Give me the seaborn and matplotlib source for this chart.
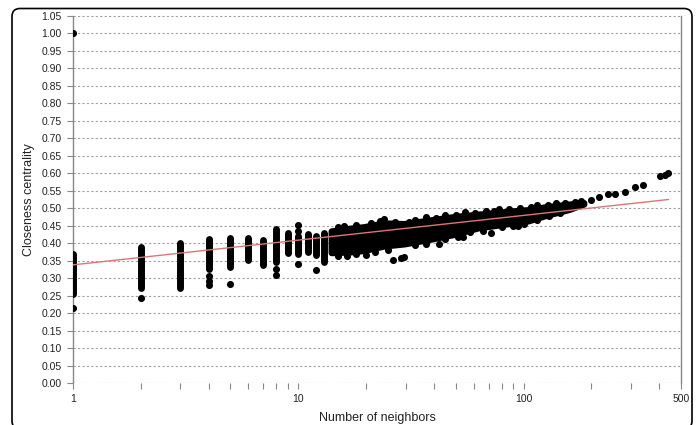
"""Closeness centrality against number of neighbours (log x), with log fit line."""

import matplotlib
matplotlib.use("Agg")
import matplotlib.pyplot as plt
from matplotlib.patches import FancyBboxPatch
from matplotlib.ticker import FixedLocator, LogLocator, NullFormatter, FormatStrFormatter
from matplotlib.transforms import IdentityTransform
import seaborn as sns

# stacked columns of dots for low neighbour counts (dot centres, lowest / highest)
column_n = [1, 2, 3, 4, 5, 6, 7, 8, 9, 10, 11, 12, 13]
column_low = [0.254, 0.271, 0.271, 0.325, 0.333, 0.352, 0.338, 0.345, 0.371, 0.370, 0.376, 0.366, 0.347]
column_high = [0.369, 0.389, 0.400, 0.411, 0.414, 0.414, 0.409, 0.440, 0.430, 0.420, 0.425, 0.420, 0.430]

# dense cloud from 14 neighbours on (dot centres along the upper / lower edge)
band_n = [14, 17, 19.5, 24, 29.5, 39, 49, 63, 88, 105, 125, 160, 185]
band_upper = [0.435, 0.443, 0.447, 0.458, 0.456, 0.467, 0.476, 0.483, 0.492, 0.496, 0.504, 0.512, 0.516]
band_lower = [0.373, 0.375, 0.379, 0.392, 0.398, 0.412, 0.425, 0.444, 0.457, 0.464, 0.479, 0.497, 0.512]

# single dots at the ragged edges of the cloud
edge_n = [15, 16, 18, 21, 23, 24, 27, 31, 33, 37, 41, 45, 50, 55, 61, 68, 74, 78, 86, 96, 108, 115, 128, 140, 152, 170, 180,
          15, 16.5, 18, 20, 22, 25, 33, 37, 45, 51, 58, 66, 80, 90, 100, 115, 130, 145]
edge_y = [0.446, 0.449, 0.452, 0.458, 0.463, 0.468, 0.462, 0.462, 0.467, 0.474, 0.473, 0.481, 0.480, 0.488, 0.487, 0.491, 0.492, 0.498, 0.497, 0.500, 0.503, 0.508, 0.510, 0.514, 0.516, 0.519, 0.522,
          0.364, 0.362, 0.368, 0.366, 0.376, 0.380, 0.394, 0.398, 0.413, 0.418, 0.431, 0.436, 0.447, 0.449, 0.456, 0.466, 0.477, 0.486]

# isolated points
lone_n = [1, 1, 2, 4, 4, 4, 5, 8, 8, 10, 10, 10, 12,
          26.2, 28.6, 29.6, 42.3, 54, 72, 94.6,
          200, 217, 238, 254, 282, 312, 338, 405, 424, 440]
lone_y = [0.215, 1.000, 0.244, 0.305, 0.291, 0.281, 0.284, 0.327, 0.310, 0.453, 0.435, 0.341, 0.324,
          0.351, 0.357, 0.360, 0.399, 0.417, 0.430, 0.449,
          0.523, 0.533, 0.542, 0.542, 0.547, 0.561, 0.567, 0.591, 0.596, 0.601]

# fitted trend
trend_n = [1, 440]
trend_y = [0.338, 0.525]

x_major = [1, 10, 100, 500]
x_labels = ["1", "10", "100", "500"]
y_ticks = [i * 0.05 for i in range(22)]

sns.set_style("white")
plt.rcParams["font.family"] = ["Liberation Sans", "DejaVu Sans"]

fig = plt.figure(figsize=(6.97, 4.25), dpi=100)
ax = fig.add_axes([73 / 697, 42 / 425, 608 / 697, 367 / 425])
ax.set_xscale("log")
ax.set_xlim(1, 500)
ax.set_ylim(0, 1.05)

ax.vlines(column_n, column_low, column_high, color="black", linewidth=5, capstyle="round", zorder=3)
ax.fill_between(band_n, band_lower, band_upper, facecolor="black", edgecolor="black",
                linewidth=4.5, joinstyle="round", zorder=3)
sns.scatterplot(x=edge_n, y=edge_y, color="black", s=26, linewidth=0, zorder=3, ax=ax)
sns.scatterplot(x=lone_n, y=lone_y, color="black", s=26, linewidth=0, zorder=3, ax=ax)
sns.lineplot(x=trend_n, y=trend_y, color="#dc7676", linewidth=1.0, zorder=5, ax=ax)

ax.xaxis.set_major_locator(FixedLocator(x_major))
ax.set_xticklabels(x_labels)
ax.xaxis.set_minor_locator(LogLocator(base=10, subs=range(2, 10)))
ax.xaxis.set_minor_formatter(NullFormatter())
ax.yaxis.set_major_locator(FixedLocator(y_ticks))
ax.yaxis.set_major_formatter(FormatStrFormatter("%.2f"))

ax.tick_params(axis="both", which="both", direction="out", length=4, width=0.8,
               color="#888888", labelsize=7.5, labelcolor="#222222", pad=4)
ax.tick_params(axis="x", which="both", bottom=True)
ax.tick_params(axis="y", left=True)
ax.yaxis.grid(True, linestyle=(0, (2, 2)), color="#a0a0a0", linewidth=0.8)
ax.xaxis.grid(False)

for side in ["top", "bottom"]:
    ax.spines[side].set_visible(False)
for side in ["left", "right"]:
    ax.spines[side].set_color("#888888")
    ax.spines[side].set_linewidth(1.0)

ax.set_xlabel("Number of neighbors", fontsize=9, color="#222222", labelpad=6)
ax.set_ylabel("Closeness centrality", fontsize=9, color="#222222", labelpad=5)

frame = FancyBboxPatch((12, -4), 680, 420.5, boxstyle="round,pad=0,rounding_size=8",
                       transform=IdentityTransform(), fill=False, edgecolor="black", linewidth=1.2)
fig.add_artist(frame)

fig.savefig("out.png", dpi=100)
plt.close(fig)
